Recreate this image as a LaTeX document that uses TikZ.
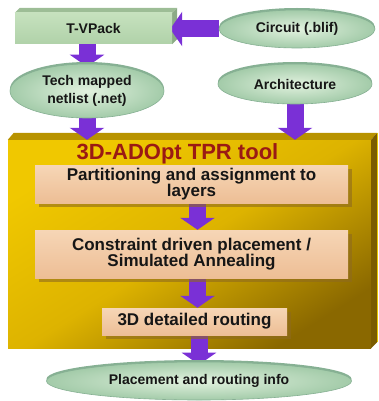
\documentclass[tikz,border=0pt]{standalone}
\usepackage{fontspec}
\setmainfont{Liberation Sans}
\usetikzlibrary{shapes.geometric,arrows.meta,shadows,calc}
\pgfdeclarelayer{back}
\pgfdeclarelayer{arrowlayer}
\pgfsetlayers{back,arrowlayer,main}

\definecolor{txt}{HTML}{161616}
\definecolor{titlec}{HTML}{9A1A14}
\definecolor{lensin}{HTML}{E2F2DF}
\definecolor{lensout}{HTML}{A3CBA9}
\definecolor{lensrim}{HTML}{86B093}
\definecolor{packfront}{HTML}{C6E1BE}
\definecolor{packfrontb}{HTML}{B0D2A9}
\definecolor{packtop}{HTML}{9DBD96}
\definecolor{packside}{HTML}{8CAB86}
\definecolor{arrowc}{HTML}{7A30D6}
\definecolor{goldtl}{HTML}{F0C800}
\definecolor{goldmid}{HTML}{DDB300}
\definecolor{goldbr}{HTML}{8A6800}
\definecolor{goldtop}{HTML}{B89300}
\definecolor{goldside}{HTML}{7A5C00}
\definecolor{goldedge}{HTML}{E8C400}
\definecolor{peachtop}{HTML}{F6D6B6}
\definecolor{peachbot}{HTML}{EDBE95}
\definecolor{shadowc}{HTML}{8E6A1E}

\begin{document}
\begin{tikzpicture}[x=1pt,y=-1pt,
  every node/.style={text=txt},
  lens/.style={ellipse, inner sep=0pt, inner color=lensin, outer color=lensout,
    draw=lensrim, line width=0.6pt,
    general shadow={fill=lensrim, shadow yshift=2pt},
    font=\fontsize{14}{18}\selectfont\bfseries, align=center},
  stepbox/.style={rectangle, inner sep=0pt, top color=peachtop, bottom color=peachbot,
    drop shadow={shadow xshift=4pt, shadow yshift=-4pt, fill=shadowc, opacity=.6},
    font=\fontsize{17}{16}\selectfont\bfseries, align=center},
  flow/.style={line width=17pt, draw=arrowc, -{Triangle[length=12pt,width=34pt]}}
]
\useasboundingbox (0,0) rectangle (379,401);

% tool frame: front face with top and right bevels
\begin{pgfonlayer}{back}
  \node[rectangle, inner sep=0pt, minimum width=363pt, minimum height=208pt,
        top color=goldtl, bottom color=goldbr, middle color=goldmid, shading angle=32]
        (tool) at (189.5,244) {};
  \fill[goldtop] (tool.north west) -- ++(6,-7) -- ($(tool.north east)+(6,-7)$)
        -- (tool.north east) -- cycle;
  \fill[goldside] (tool.north east) -- ++(6,-7) -- ($(tool.south east)+(6,-6)$)
        -- (tool.south east) -- cycle;
  \draw[goldedge, line width=1pt] ($(tool.north east)+(6,-7)$) -- ($(tool.south east)+(6,-6)$);
\end{pgfonlayer}

% T-VPack block with bevels
\node[rectangle, inner sep=0pt, minimum width=157pt, minimum height=31pt,
      top color=packfront, bottom color=packfrontb,
      font=\fontsize{14}{16}\selectfont\bfseries] (tvpack) at (93.5,28.5) {T-VPack};
\begin{pgfonlayer}{back}
  \fill[packtop] (tvpack.north west) -- ++(5,-5) -- ($(tvpack.north east)+(5,-5)$)
        -- (tvpack.north east) -- cycle;
  \fill[packside] (tvpack.north east) -- ++(5,-5) -- ($(tvpack.south east)+(5,-5)$)
        -- (tvpack.south east) -- cycle;
\end{pgfonlayer}

% input / output files
\node[lens, minimum width=156pt, minimum height=38pt] (circuit) at (297,29) {Circuit (.blif)};
\node[lens, minimum width=154pt, minimum height=54pt] (tech) at (87,91) {Tech mapped\\netlist (.net)};
\node[lens, minimum width=154pt, minimum height=40pt] (arch) at (295,84) {Architecture};
\node[lens, minimum width=305pt, minimum height=38pt] (place) at (199,381) {Placement and routing info};

% tool title and its stages
\node[font=\fontsize{22}{22}\selectfont\bfseries, text=titlec] (title) at (177.5,154) {3D-ADOpt TPR tool};
\node[stepbox, minimum width=313pt, minimum height=38pt] (part) at (191.5,184)
      {Partitioning and assignment to\\layers};
\node[stepbox, minimum width=313pt, minimum height=48pt] (cons) at (191.5,254)
      {Constraint driven placement /\\Simulated Annealing};
\node[stepbox, minimum width=185pt, minimum height=27pt] (route) at (194.5,321.5)
      {3D detailed routing};

% flow arrows
\begin{pgfonlayer}{arrowlayer}
  \draw[flow, shorten >=-2pt] (circuit) -- (circuit -| tvpack.east);
  \draw[flow, shorten >=-3pt] (tvpack -| tech) -- (tech.north);
  \draw[flow] (tech) -- (tech |- tool.north);
  \draw[flow] (arch) -- (arch |- tool.north);
  \draw[flow] ([xshift=6pt]part.center) -- ([xshift=6pt]part.center |- cons.north);
  \draw[flow] ([xshift=3pt]route.center |- cons.center) -- ([xshift=3pt]route.north);
  \draw[flow, shorten >=-3pt] (route.center -| place) -- (place.north);
\end{pgfonlayer}
\end{tikzpicture}
\end{document}
